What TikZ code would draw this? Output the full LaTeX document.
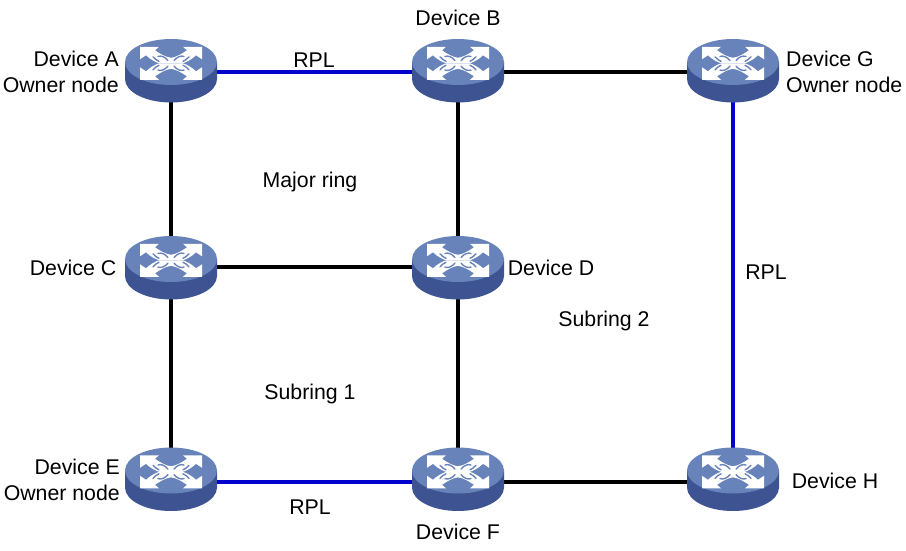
\documentclass[tikz,border=0pt]{standalone}
\usepackage{fontspec}
\setmainfont{Liberation Sans}
\definecolor{rtop}{RGB}{104,131,186}
\definecolor{rside}{RGB}{62,84,146}
\definecolor{rpl}{RGB}{0,0,205}
\tikzset{
  x=1pt,y=-1pt,
  hub/.style={inner sep=0pt,minimum size=0pt},
  link/.style={draw=black,line width=3.6pt},
  rpllink/.style={draw=rpl,line width=3.6pt},
  lab/.style={font=\fontsize{21.3}{26}\selectfont,align=center,inner sep=0pt,text=black},
  labr/.style={lab,align=right,anchor=east},
  labl/.style={lab,align=left,anchor=west},
  glyph/.style={fill=white,draw=none},
  wisp/.style={draw=rtop,line width=1.4pt,line cap=round},
}
\newcommand{\routericon}[2]{%
\begin{scope}[shift={(#1)},yshift=#2]
  \fill[rside] (-46,-10) -- (-46,7) arc[start angle=180,end angle=0,x radius=46,y radius=23.5] -- (46,-10) -- cycle;
  \fill[rtop] (0,-10) ellipse[x radius=46,y radius=23];
  \begin{scope}[shift={(0,-8.7)}]
  \foreach \sx/\sy in {1/1,-1/1,1/-1,-1/-1}{
    \begin{scope}[xscale=\sx,yscale=\sy]
      \fill[glyph] (31,-16.5) -- (12,-16.5) -- (16,-13) .. controls (10,-9) and (6,-6.5) .. (0,-5.5) -- (0,0) -- (12,0) .. controls (16,-1.5) and (21,-4) .. (25,-8) -- (31,-4) -- cycle;
      \draw[wisp] (3,-2.8) .. controls (6,-6.5) and (10,-8) .. (13,-6.8);
      \draw[wisp] (12,-2) .. controls (14,-3) and (16,-4) .. (18,-6.5);
    \end{scope}
  }
  \end{scope}
\end{scope}}
\begin{document}
\begin{tikzpicture}
\useasboundingbox (0,0) rectangle (906,550);
\node[hub] (A) at (171,72) {};
\node[hub] (B) at (458,72) {};
\node[hub] (G) at (733,72) {};
\node[hub] (C) at (171,267) {};
\node[hub] (D) at (458,267) {};
\node[hub] (E) at (171,482) {};
\node[hub] (F) at (458,482) {};
\node[hub] (H) at (733,482) {};
\path[rpllink] (A) -- (B);
\path[link] (B) -- (G);
\path[link] (A) -- (C);
\path[link] (C) -- (E);
\path[link] (B) -- (D);
\path[link] (D) -- (F);
\path[link] (C) -- (D);
\path[rpllink] (G) -- (H);
\path[rpllink] (E) -- (F);
\path[link] (F) -- (H);
\routericon{A}{0pt}\routericon{B}{0pt}\routericon{G}{0pt}
\routericon{C}{-2pt}\routericon{D}{-2pt}
\routericon{E}{1.5pt}\routericon{F}{1.5pt}\routericon{H}{1.5pt}
\node[labr] (tA) at (119,72) {Device A\\Owner node};
\node[lab] (tB) at (458,18) {Device B};
\node[labl] (tG) at (786,72) {Device G\\Owner node};
\node[lab] (tC) at (73,268) {Device C};
\node[lab] (tD) at (551,268) {Device D};
\node[labr] (tE) at (120,480) {Device E\\Owner node};
\node[lab] (tF) at (458,532) {Device F};
\node[lab] (tH) at (835,481) {Device H};
\node[lab] (r1) at (314,60) {RPL};
\node[lab] (r2) at (766,272) {RPL};
\node[lab] (r3) at (310,507) {RPL};
\node[lab] (m) at (310,182) {Major ring};
\node[lab] (s1) at (310,394) {Subring 1};
\node[lab] (s2) at (604,321) {Subring 2};
\end{tikzpicture}
\end{document}
